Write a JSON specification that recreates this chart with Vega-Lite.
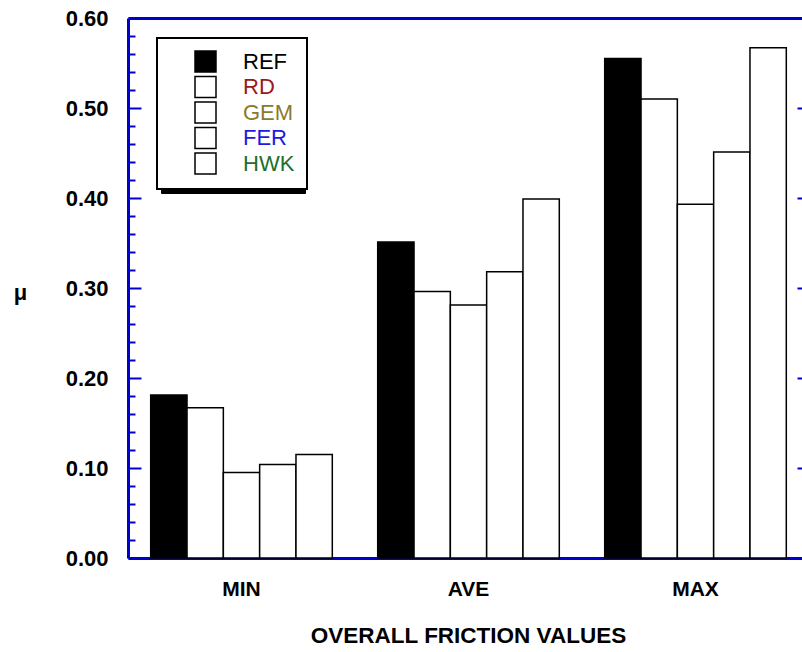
{
  "$schema": "https://vega.github.io/schema/vega-lite/v6.json",
  "width": 674,
  "height": 540,
  "autosize": {"type": "none"},
  "padding": {"left": 128, "top": 18, "right": 0, "bottom": 94},
  "background": "white",
  "config": {
    "view": {"stroke": null},
    "font": "Liberation Sans",
    "axis": {"grid": false}
  },
  "data": {
    "values": [
      {"stat": "MIN", "series": "REF", "mu": 0.181},
      {"stat": "MIN", "series": "RD", "mu": 0.167},
      {"stat": "MIN", "series": "GEM", "mu": 0.095},
      {"stat": "MIN", "series": "FER", "mu": 0.104},
      {"stat": "MIN", "series": "HWK", "mu": 0.115},
      {"stat": "AVE", "series": "REF", "mu": 0.351},
      {"stat": "AVE", "series": "RD", "mu": 0.296},
      {"stat": "AVE", "series": "GEM", "mu": 0.281},
      {"stat": "AVE", "series": "FER", "mu": 0.318},
      {"stat": "AVE", "series": "HWK", "mu": 0.399},
      {"stat": "MAX", "series": "REF", "mu": 0.555},
      {"stat": "MAX", "series": "RD", "mu": 0.510},
      {"stat": "MAX", "series": "GEM", "mu": 0.393},
      {"stat": "MAX", "series": "FER", "mu": 0.451},
      {"stat": "MAX", "series": "HWK", "mu": 0.567}
    ]
  },
  "resolve": {"axis": {"x": "independent", "y": "independent"}},
  "layer": [
    {
      "mark": {"type": "point", "opacity": 0},
      "encoding": {
        "x": {"field": "stat", "type": "nominal", "sort": ["MIN", "AVE", "MAX"], "axis": null},
        "y": {"field": "mu", "type": "quantitative", "axis": null},
        "shape": {
          "field": "series",
          "type": "nominal",
          "scale": {
            "domain": ["HWK", "FER", "GEM", "RD", "REF"],
            "range": ["square", "square", "square", "square", "square"]
          },
          "legend": {
            "orient": "none",
            "legendX": 33,
            "legendY": 24,
            "title": null,
            "symbolType": "square",
            "symbolSize": 441,
            "symbolStrokeWidth": 1.5,
            "symbolOffset": 25,
            "labelExpr": "' '",
            "labelFont": "Liberation Sans",
            "labelFontSize": 22,
            "labelOffset": 71.2,
            "labelLimit": 300,
            "rowPadding": -1.5,
            "padding": 12,
            "strokeColor": "black",
            "fillColor": "black",
            "encode": {
              "legend": {"update": {"strokeWidth": {"value": 2}}},
              "symbols": {"update": {"opacity": {"value": 0}}},
              "labels": {"update": {"opacity": {"value": 0}}}
            }
          }
        }
      }
    },
    {
      "mark": {"type": "bar", "stroke": "black", "strokeWidth": 1.5},
      "encoding": {
        "x": {
          "field": "stat",
          "type": "nominal",
          "sort": ["MIN", "AVE", "MAX"],
          "scale": {"range": [0, 681], "paddingInner": 0.2, "paddingOuter": 0.1},
          "axis": {
            "orient": "bottom",
            "title": "OVERALL FRICTION VALUES",
            "titleX": 340,
            "labelAngle": 0,
            "ticks": false,
            "domainColor": "#0000cc",
            "domainWidth": 3,
            "labelFont": "Liberation Sans",
            "labelFontWeight": "bold",
            "labelFontSize": 21,
            "labelColor": "black",
            "labelPadding": 20,
            "titleFont": "Liberation Sans",
            "titleFontSize": 22.5,
            "titleFontWeight": "bold",
            "titleColor": "black",
            "titlePadding": 25
          }
        },
        "xOffset": {
          "field": "series",
          "type": "nominal",
          "sort": ["REF", "RD", "GEM", "FER", "HWK"],
          "scale": {"paddingInner": 0, "paddingOuter": 0}
        },
        "y": {
          "field": "mu",
          "type": "quantitative",
          "scale": {"domain": [0, 0.6], "nice": false},
          "axis": {
            "orient": "left",
            "values": [0, 0.1, 0.2, 0.3, 0.4, 0.5, 0.6],
            "format": ".2f",
            "tickSize": -13,
            "tickWidth": 2,
            "tickColor": "#0000cc",
            "domainColor": "#0000cc",
            "domainWidth": 3,
            "labelFont": "Liberation Sans",
            "labelFontWeight": "bold",
            "labelFontSize": 22,
            "labelColor": "black",
            "labelPadding": 33,
            "title": "μ",
            "titleAngle": 0,
            "titleX": -108,
            "titleY": 274,
            "titleAlign": "center",
            "titleBaseline": "middle",
            "titleFont": "Liberation Sans",
            "titleFontSize": 22,
            "titleFontWeight": "bold",
            "titleColor": "black"
          }
        },
        "color": {
          "field": "series",
          "type": "nominal",
          "sort": ["REF", "RD", "GEM", "FER", "HWK"],
          "scale": {
            "domain": ["REF", "RD", "GEM", "FER", "HWK"],
            "range": ["black", "white", "white", "white", "white"]
          },
          "legend": {
            "orient": "none",
            "legendX": 29,
            "legendY": 20,
            "title": null,
            "symbolType": "square",
            "symbolSize": 441,
            "symbolStrokeColor": "black",
            "symbolStrokeWidth": 1.5,
            "symbolOffset": 25,
            "labelFont": "Liberation Sans",
            "labelFontSize": 22,
            "labelOffset": 26,
            "labelLimit": 300,
            "rowPadding": -1.5,
            "padding": 12,
            "strokeColor": "black",
            "fillColor": "white",
            "encode": {
              "legend": {"update": {"strokeWidth": {"value": 2}}},
              "labels": {
                "update": {
                  "fill": {
                    "signal": "datum.value === 'RD' ? '#9a1a1a' : datum.value === 'GEM' ? '#8a7a2a' : datum.value === 'FER' ? '#1a1ae0' : datum.value === 'HWK' ? '#1e6e2e' : '#000000'"
                  }
                }
              }
            }
          }
        }
      }
    },
    {
      "mark": {"type": "rule", "opacity": 0},
      "encoding": {
        "y": {
          "field": "mu",
          "type": "quantitative",
          "axis": {
            "orient": "left",
            "values": [0.02, 0.04, 0.06, 0.08, 0.12, 0.14, 0.16, 0.18, 0.22, 0.24, 0.26, 0.28, 0.32, 0.34, 0.36, 0.38, 0.42, 0.44, 0.46, 0.48, 0.52, 0.54, 0.56, 0.58],
            "labels": false,
            "domain": false,
            "tickSize": -7,
            "tickWidth": 2,
            "tickColor": "#0000cc",
            "title": null
          }
        }
      }
    },
    {
      "mark": {"type": "tick", "opacity": 0},
      "encoding": {
        "x": {
          "field": "stat",
          "type": "nominal",
          "sort": ["MIN", "AVE", "MAX"],
          "axis": {
            "orient": "top",
            "labels": false,
            "ticks": false,
            "domainColor": "#0000cc",
            "domainWidth": 3,
            "title": null
          }
        },
        "y": {
          "field": "mu",
          "type": "quantitative",
          "axis": {
            "orient": "right",
            "values": [0.1, 0.2, 0.3, 0.4, 0.5, 0.6],
            "labels": false,
            "domain": false,
            "tickSize": -5,
            "tickWidth": 2,
            "tickColor": "#0000cc",
            "title": null
          }
        }
      }
    }
  ]
}
